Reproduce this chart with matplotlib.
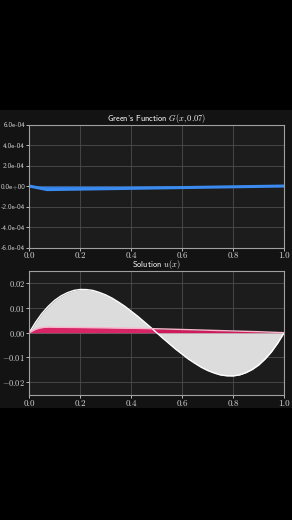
import matplotlib
matplotlib.use('Agg')
import matplotlib.pyplot as plt
from matplotlib.ticker import FuncFormatter, FormatStrFormatter

plt.rcParams['mathtext.fontset'] = 'cm'
plt.rcParams['font.family'] = ['cmss10', 'DejaVu Sans']
plt.rcParams['axes.unicode_minus'] = False

# Green's function G(x, 0.07)
x_g = [0.0, 0.07, 1.0]
g_vals = [0.0, -3.5e-05, 0.0]

# full solution u(x)
x_u = [0.0, 0.025, 0.05, 0.075, 0.1, 0.125, 0.15, 0.175, 0.2, 0.225, 0.25,
       0.275, 0.3, 0.325, 0.35, 0.375, 0.4, 0.425, 0.45, 0.475, 0.5,
       0.525, 0.55, 0.575, 0.6, 0.625, 0.65, 0.675, 0.7, 0.725, 0.75,
       0.775, 0.8, 0.825, 0.85, 0.875, 0.9, 0.925, 0.95, 0.975, 1.0]
u_vals = [0.0, 0.0042, 0.0078, 0.0107, 0.0131, 0.0149, 0.0162, 0.0171, 0.0175, 0.01745, 0.0171,
          0.0163, 0.0153, 0.0140, 0.0124, 0.0107, 0.0087, 0.0067, 0.0045, 0.0023, 0.0,
          -0.0023, -0.0045, -0.0067, -0.0087, -0.0107, -0.0124, -0.0140, -0.0153, -0.0163, -0.0171,
          -0.01745, -0.0175, -0.0171, -0.0162, -0.0149, -0.0131, -0.0107, -0.0078, -0.0042, 0.0]

# partial sum (pink)
x_p = [0.0, 0.02, 0.04, 0.06, 0.08, 0.1, 0.2, 0.3, 0.4, 0.5, 0.6, 0.7, 0.8, 0.9, 1.0]
p_vals = [0.0, 0.0012, 0.0019, 0.0022, 0.0023, 0.0022, 0.0021, 0.0020, 0.0018, 0.0016,
          0.0013, 0.0010, 0.0007, 0.0004, 0.0]

x_ticks = [0.0, 0.2, 0.4, 0.6, 0.8, 1.0]
g_ticks = [-6e-4, -4e-4, -2e-4, 0.0, 2e-4, 4e-4, 6e-4]
u_ticks = [-0.02, -0.01, 0.0, 0.01, 0.02]

fig = plt.figure(figsize=(2.92, 5.2), dpi=100, facecolor='black')

# dark frame behind the plots
bg = fig.add_axes([0, 1 - 408 / 520, 1, (408 - 110) / 520], zorder=-5)
bg.set_facecolor('#131313')
bg.set_xticks([])
bg.set_yticks([])
for s in bg.spines.values():
    s.set_visible(False)

ax1 = fig.add_axes([0.100, 0.524, 0.873, 0.2365])
ax2 = fig.add_axes([0.100, 0.240, 0.873, 0.239])

math_fmt2 = FuncFormatter(lambda v, p: '$%.2f$' % v)

for ax in (ax1, ax2):
    ax.set_facecolor('#1c1c1c')
    ax.grid(True, color='#4d4d4d', linewidth=0.6)
    ax.set_axisbelow(True)
    for s in ax.spines.values():
        s.set_color('#a0a0a0')
        s.set_linewidth(0.8)
    ax.tick_params(colors='#d8d8d8', labelsize=6, length=2, width=0.6, pad=1)
    ax.set_xlim(0, 1)
    ax.set_xticks(x_ticks)
    ax.set_xticklabels(['%.1f' % t for t in x_ticks], fontfamily='cmr10', fontsize=6.5)

ax1.fill_between(x_g, 0, g_vals, color='#2f7fe6', linewidth=0)
ax1.plot(x_g, g_vals, color='#3a8af0', linewidth=2.2)
ax1.set_ylim(-6e-4, 6e-4)
ax1.set_yticks(g_ticks)
ax1.yaxis.set_major_formatter(FormatStrFormatter('%.1e'))
ax1.tick_params(axis='y', labelsize=5.2)
ax1.set_title("Green's Function $G(x, 0.07)$", color='white', fontsize=6, pad=1.5)

ax2.fill_between(x_u, 0, u_vals, color='#dcdcdc', linewidth=0)
ax2.plot(x_u, u_vals, color='white', linewidth=1)
ax2.fill_between(x_p, 0, p_vals, color='#d81b60', alpha=0.95, linewidth=0)
ax2.plot(x_p, p_vals, color='#f7b6cc', linewidth=1)
ax2.set_ylim(-0.0253, 0.025)
ax2.set_yticks(u_ticks)
ax2.yaxis.set_major_formatter(math_fmt2)
ax2.set_title('Solution $u(x)$', color='white', fontsize=6, pad=0)

fig.savefig('out.png', dpi=100, facecolor='black')
